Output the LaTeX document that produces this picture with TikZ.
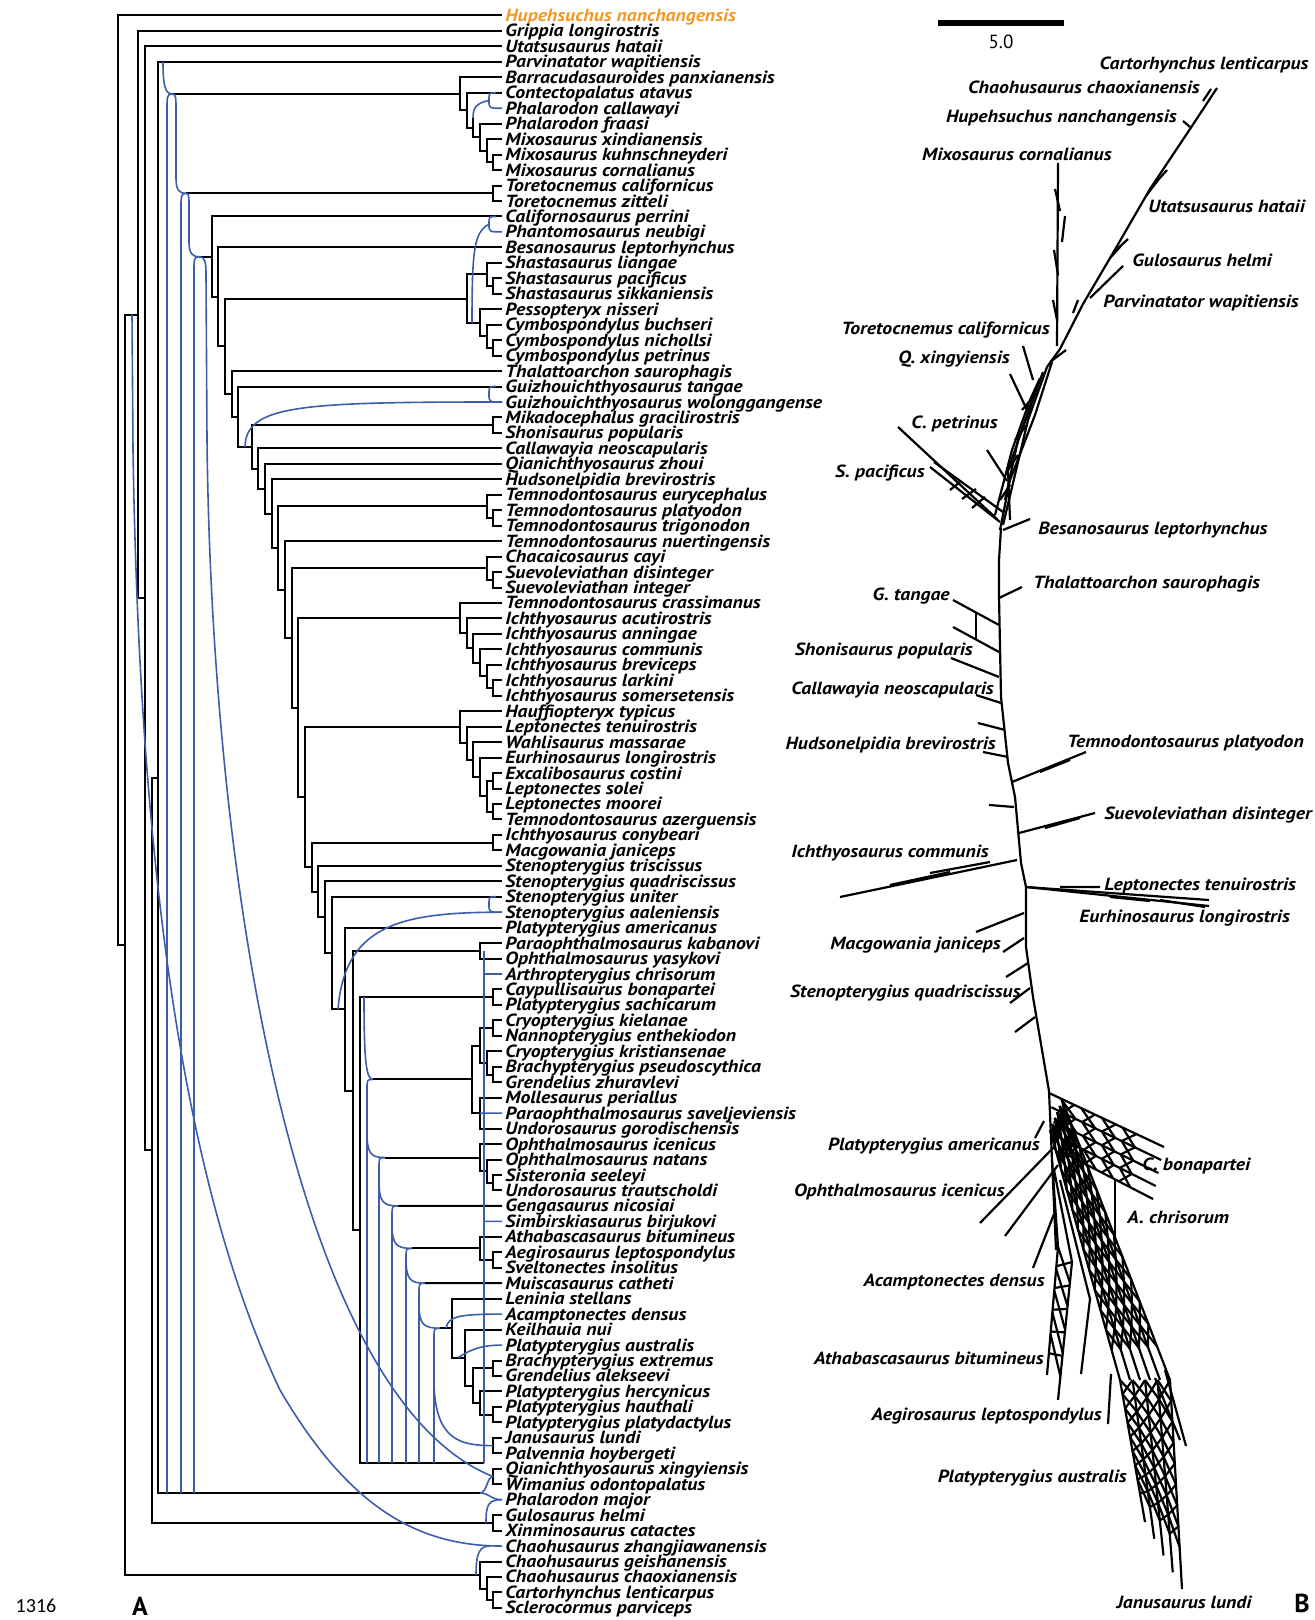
\documentclass[tikz,border=0pt]{standalone}
\usepackage{fontspec}
\setmainfont{PT Sans}
\newfontfamily\taxonfont{PT Sans}[FakeStretch=1.12]
\newfontfamily\digitfont{Carlito}
\usetikzlibrary{calc}
\definecolor{retiblue}{RGB}{60,94,170}
\definecolor{hupeorange}{RGB}{241,152,40}
\newcommand{\ry}[1]{15.5+(#1-1)*15.46}
\newcommand{\fork}[3]{\draw[treeedge] (#2) -| (#1) |- (#3);}

\begin{document}
\begin{tikzpicture}[x=0.5pt,y=-0.5pt,
  treeedge/.style={line width=1pt,black},
  retiedge/.style={line width=0.8pt,retiblue},
  netedge/.style={line width=1.1pt,black},
  taxonlab/.style={anchor=west,inner xsep=1.5pt,inner ysep=0pt,text height=1.6ex,text depth=0.4ex,font=\taxonfont\fontsize{8.8}{9}\selectfont\bfseries\itshape},
  netlab/.style={inner sep=0pt,text height=1.6ex,text depth=0.4ex,font=\taxonfont\fontsize{8.8}{9}\selectfont\bfseries\itshape}]
\useasboundingbox (0,0) rectangle (1315,1620);

% A: taxa
\node[taxonlab,text=hupeorange] (t1) at (502,{\ry{1}}) {Hupehsuchus nanchangensis};
\foreach \nm [count=\i from 2] in {Grippia longirostris,Utatsusaurus hataii,Parvinatator wapitiensis,
  Barracudasauroides panxianensis,Contectopalatus atavus,Phalarodon callawayi,Phalarodon fraasi,
  Mixosaurus xindianensis,Mixosaurus kuhnschneyderi,Mixosaurus cornalianus,Toretocnemus californicus,
  Toretocnemus zitteli,Californosaurus perrini,Phantomosaurus neubigi,Besanosaurus leptorhynchus,
  Shastasaurus liangae,Shastasaurus pacificus,Shastasaurus sikkaniensis,Pessopteryx nisseri,
  Cymbospondylus buchseri,Cymbospondylus nichollsi,Cymbospondylus petrinus,Thalattoarchon saurophagis,
  Guizhouichthyosaurus tangae,Guizhouichthyosaurus wolonggangense,Mikadocephalus gracilirostris,
  Shonisaurus popularis,Callawayia neoscapularis,Qianichthyosaurus zhoui,Hudsonelpidia brevirostris,
  Temnodontosaurus eurycephalus,Temnodontosaurus platyodon,Temnodontosaurus trigonodon,
  Temnodontosaurus nuertingensis,Chacaicosaurus cayi,Suevoleviathan disinteger,Suevoleviathan integer,
  Temnodontosaurus crassimanus,Ichthyosaurus acutirostris,Ichthyosaurus anningae,Ichthyosaurus communis,
  Ichthyosaurus breviceps,Ichthyosaurus larkini,Ichthyosaurus somersetensis,Hauffiopteryx typicus,
  Leptonectes tenuirostris,Wahlisaurus massarae,Eurhinosaurus longirostris,Excalibosaurus costini,
  Leptonectes solei,Leptonectes moorei,Temnodontosaurus azerguensis,Ichthyosaurus conybeari,
  Macgowania janiceps,Stenopterygius triscissus,Stenopterygius quadriscissus,Stenopterygius uniter,
  Stenopterygius aaleniensis,Platypterygius americanus,Paraophthalmosaurus kabanovi,Ophthalmosaurus yasykovi,
  Arthropterygius chrisorum,Caypullisaurus bonapartei,Platypterygius sachicarum,Cryopterygius kielanae,
  Nannopterygius enthekiodon,Cryopterygius kristiansenae,Brachypterygius pseudoscythica,Grendelius zhuravlevi,
  Mollesaurus periallus,Paraophthalmosaurus saveljeviensis,Undorosaurus gorodischensis,Ophthalmosaurus icenicus,
  Ophthalmosaurus natans,Sisteronia seeleyi,Undorosaurus trautscholdi,Gengasaurus nicosiai,
  Simbirskiasaurus birjukovi,Athabascasaurus bitumineus,Aegirosaurus leptospondylus,Sveltonectes insolitus,
  Muiscasaurus catheti,Leninia stellans,Acamptonectes densus,Keilhauia nui,Platypterygius australis,
  Brachypterygius extremus,Grendelius alekseevi,Platypterygius hercynicus,Platypterygius hauthali,
  Platypterygius platydactylus,Janusaurus lundi,Palvennia hoybergeti,Qianichthyosaurus xingyiensis,
  Wimanius odontopalatus,Phalarodon major,Gulosaurus helmi,Xinminosaurus catactes,
  Chaohusaurus zhangjiawanensis,Chaohusaurus geishanensis,Chaohusaurus chaoxianensis,
  Cartorhynchus lenticarpus,Sclerocormus parviceps}
  \node[taxonlab] (t\i) at (502,{\ry{\i}}) {\nm};

% tree nodes
\coordinate (m1) at (493,162.4); \coordinate (m2) at (487,150.8); \coordinate (m3) at (480,137.2);
\coordinate (m4) at (473,127.6); \coordinate (m4top) at (473,118); \coordinate (m5) at (467,110.2);
\coordinate (m6) at (460,93.8); \coordinate (mj) at (172,93.8);
\coordinate (tc) at (493,193.3); \coordinate (tj) at (186,193.3);
\coordinate (s1) at (493,286.1); \coordinate (s2) at (487,274.5); \coordinate (s3) at (493,347.9);
\coordinate (s4) at (487,336.3); \coordinate (s5) at (480,322.8); \coordinate (s6) at (467,298.6);
\coordinate (mk) at (493,425.2); \coordinate (cj) at (199,256.7);
\coordinate (e1) at (493,518.0); \coordinate (e2) at (487,506.4);
\coordinate (c1) at (493,579.8); \coordinate (c2) at (487,568.2);
\coordinate (i1) at (493,688.0); \coordinate (i2) at (487,676.4); \coordinate (i3) at (480,662.9);
\coordinate (i4) at (473,648.4); \coordinate (i5) at (467,633.4); \coordinate (i6) at (460,618.2);
\coordinate (h1) at (493,780.8); \coordinate (h2) at (493,811.7); \coordinate (h3) at (487,796.2);
\coordinate (h4) at (480,776.9); \coordinate (h5) at (473,759.5); \coordinate (h6) at (467,743.1);
\coordinate (h7) at (460,727.2); \coordinate (ic) at (493,842.6);
\coordinate (pk) at (480,950.9); \coordinate (cay) at (493,997.2); \coordinate (boxend) at (484,1463);
\coordinate (n212) at (212,256.7); \coordinate (n218) at (218,296.9); \coordinate (n225) at (225,346.3);
\coordinate (n232) at (232,393.9); \coordinate (n238) at (238,416.7); \coordinate (n252) at (252,446.9);
\coordinate (n258) at (258,468.6); \coordinate (n265) at (265,488.7); \coordinate (n272) at (272,513.6);
\coordinate (n278) at (278,548.0); \coordinate (n285) at (285,589.5); \coordinate (n292) at (292,638.0);
\coordinate (n298) at (298,707.7); \coordinate (n305) at (305,797.1); \coordinate (n312) at (312,867.0);
\coordinate (n318) at (318,891.5); \coordinate (n325) at (325,917.1); \coordinate (n332) at (332,952.9);
\coordinate (n345) at (345,1009.1); \coordinate (n353) at (353,1090.5); \coordinate (n360) at (360,1230.1);
\coordinate (k1) at (493,1028.2); \coordinate (k2) at (493,1074.5); \coordinate (k3) at (487,1062.9);
\coordinate (k4) at (480,1045.6); \coordinate (mo) at (480,1113.2); \coordinate (k5) at (472,1079.4);
\coordinate (o1) at (493,1182.7); \coordinate (o2) at (487,1171.1); \coordinate (o3) at (480,1157.6);
\coordinate (a1) at (493,1260.0); \coordinate (a2) at (480,1248.4);
\coordinate (l1) at (493,1368.3); \coordinate (l2) at (493,1414.7); \coordinate (l3) at (480,1403.1);
\coordinate (l4) at (473,1385.7); \coordinate (l5) at (465,1357.7); \coordinate (l6) at (452,1328.2);
\coordinate (J1) at (373,1079.4); \coordinate (J2) at (385,1157.6); \coordinate (J3) at (398,1205.9);
\coordinate (J4) at (412,1248.4); \coordinate (J5) at (425,1283.2); \coordinate (J6) at (440,1328.2);
\coordinate (jp) at (493,1445.6); \coordinate (qw) at (493,1476.5); \coordinate (gx) at (493,1522.9);
\coordinate (ch1) at (493,1600.2); \coordinate (ch2) at (487,1588.6); \coordinate (ch3) at (480,1575.1);
\coordinate (pmj) at (480,1493);
\coordinate (N5) at (158,777.5); \coordinate (N4) at (152,1150.2); \coordinate (N3) at (145,598.3);
\coordinate (N2) at (138,314.7); \coordinate (N1) at (125,944.9); \coordinate (N0) at (118,480.2);

% black tree edges
\fork{m1}{t10.west}{t11.west} \fork{m2}{t9.west}{m1} \fork{m3}{t8.west}{m2}
\draw[treeedge] (m4top) |- (m3);
\fork{m5}{t6.west}{m4} \fork{m6}{t5.west}{m5} \draw[treeedge] (mj) -- (m6);
\fork{tc}{t12.west}{t13.west} \draw[treeedge] (tj) -- (tc);
\fork{s1}{t18.west}{t19.west} \fork{s2}{t17.west}{s1} \fork{s3}{t22.west}{t23.west}
\fork{s4}{t21.west}{s3} \fork{s5}{t20.west}{s4} \fork{s6}{s2}{s5}
\fork{mk}{t27.west}{t28.west}
\fork{e1}{t33.west}{t34.west} \fork{e2}{t32.west}{e1}
\fork{c1}{t37.west}{t38.west} \fork{c2}{t36.west}{c1}
\fork{i1}{t44.west}{t45.west} \fork{i2}{t43.west}{i1} \fork{i3}{t42.west}{i2}
\fork{i4}{t41.west}{i3} \fork{i5}{t40.west}{i4} \fork{i6}{t39.west}{i5}
\fork{h1}{t50.west}{t51.west} \fork{h2}{t52.west}{t53.west} \fork{h3}{h1}{h2}
\fork{h4}{t49.west}{h3} \fork{h5}{t48.west}{h4} \fork{h6}{t47.west}{h5} \fork{h7}{t46.west}{h6}
\fork{ic}{t54.west}{t55.west} \fork{pk}{t61.west}{t62.west} \fork{cay}{t64.west}{t65.west}
\draw[treeedge] (cj) -- (n212);
\fork{n212}{t14.west}{n218} \fork{n218}{t16.west}{n225} \fork{n225}{s6}{n232}
\fork{n232}{t24.west}{n238} \fork{n238}{t25.west}{n252} \fork{n252}{mk}{n258}
\fork{n258}{t29.west}{n265} \fork{n265}{t30.west}{n272} \fork{n272}{t31.west}{n278}
\fork{n278}{e2}{n285} \fork{n285}{t35.west}{n292} \fork{n292}{c2}{n298}
\fork{n298}{i6}{n305} \fork{n305}{h7}{n312} \fork{n312}{ic}{n318}
\fork{n318}{t56.west}{n325} \fork{n325}{t57.west}{n332} \fork{n332}{t58.west}{n345}
\fork{n345}{t60.west}{n353} \fork{n353}{pk}{n360} \fork{n360}{cay}{boxend}
\fork{k1}{t66.west}{t67.west} \fork{k2}{t69.west}{t70.west} \fork{k3}{t68.west}{k2}
\fork{k4}{k1}{k3} \fork{mo}{t71.west}{t73.west} \fork{k5}{k4}{mo} \draw[treeedge] (J1) -- (k5);
\fork{o1}{t76.west}{t77.west} \fork{o2}{t75.west}{o1} \fork{o3}{t74.west}{o2} \draw[treeedge] (J2) -- (o3);
\draw[treeedge] (J3) -- (t78.west);
\fork{a1}{t81.west}{t82.west} \fork{a2}{t80.west}{a1} \draw[treeedge] (J4) -- (a2);
\draw[treeedge] (J5) -- (t83.west);
\fork{l1}{t88.west}{t89.west} \fork{l2}{t91.west}{t92.west} \fork{l3}{t90.west}{l2}
\fork{l4}{l1}{l3} \fork{l5}{t86.west}{l4} \fork{l6}{t84.west}{l5} \draw[treeedge] (J6) -- (l6);
\fork{jp}{t93.west}{t94.west} \fork{qw}{t95.west}{t96.west} \fork{gx}{t98.west}{t99.west}
\fork{ch1}{t103.west}{t104.west} \fork{ch2}{t102.west}{ch1} \fork{ch3}{t101.west}{ch2}
\fork{N5}{t4.west}{pmj} \fork{N4}{N5}{gx} \fork{N3}{t3.west}{N4}
\fork{N2}{t2.west}{N3} \fork{N1}{N2}{ch3} \fork{N0}{t1.west}{N1}

% blue reticulate edges
\draw[retiedge] (163,61.9) .. controls (163,85) and (165,93.8) .. (mj);
\draw[retiedge] (mj) .. controls (167,93.8) and (167,98) .. (167,108) -- (167,1493);
\draw[retiedge] (mj) .. controls (176,93.8) and (176,98) .. (176,110) -- (176,178) .. controls (176,190) and (179,193.3) .. (tj);
\draw[retiedge] (tj) .. controls (181,193.3) and (181,197) .. (181,206) -- (181,1493);
\draw[retiedge] (tj) .. controls (189,193.3) and (189,197) .. (189,206) -- (189,242) .. controls (189,253) and (192,256.7) .. (cj);
\draw[retiedge] (cj) .. controls (194,256.7) and (194,260) .. (194,270) -- (194,1493);
\draw[retiedge] (cj) .. controls (205,256.7) and (206,262) .. (206,275) -- (207,440) .. controls (212,900) and (300,1400) .. (qw);
\draw[retiedge] (132,314.7) -- (133,450) .. controls (140,900) and (190,1200) .. (280,1390) .. controls (350,1510) and (420,1546) .. (t100.west);
\draw[retiedge] (476,1575.1) .. controls (476,1552) and (480,1546) .. (490,1546);
\draw[retiedge] (496,92.8) .. controls (489,92.8) .. (489,100.5) .. controls (489,108.3) .. (t7.west);
\draw[retiedge] (489,100.5) .. controls (476,103) and (473,108) .. (m4top);
\draw[retiedge] (496,216.5) .. controls (489,216.5) .. (489,224.2) .. controls (489,231.9) .. (t15.west);
\draw[retiedge] (489,224.2) .. controls (474,232) and (472,250) .. (472,322.8);
\draw[retiedge] (496,386.5) .. controls (489,386.5) .. (489,394.2) .. controls (489,402) .. (t26.west);
\draw[retiedge] (245,446.9) .. controls (246,405) and (300,402) .. (t26.west);
\draw[retiedge] (496,896.7) .. controls (489,896.7) .. (489,904.5) .. controls (489,912.2) .. (t59.west);
\draw[retiedge] (338,1009.1) .. controls (345,925) and (400,912.2) .. (t59.west);
\draw[retiedge] (484,950.9) -- (boxend);
\draw[retiedge] (484,974.0) -- (t63.west);
\draw[retiedge] (mo) -- (t72.west);
\draw[retiedge] (484,1221.4) -- (t79.west);
\draw[retiedge] (364,997.2) .. controls (364,1060) and (366,1079.4) .. (J1);
\foreach \j in {1,...,6}
  \draw[retiedge] (J\j) .. controls ($(J\j)+(-6,0)$) .. ($(J\j)+(-6,10)$) -- ($(J\j |- boxend)+(-6,0)$);
\foreach \a/\b in {1/2,2/3,3/4,4/5,5/6}
  \draw[retiedge] ($(J\a |- J\b)+(-6,-25)$) .. controls ($(J\a |- J\b)+(-6,-4)$) and ($(J\a |- J\b)+(-2,0)$) .. (J\b);
\draw[retiedge] (446,1328.2) .. controls (448,1316) and (460,1314.1) .. (t85.west);
\draw[retiedge] (458,1357.7) .. controls (470,1350) and (480,1345.1) .. (t87.west);
\draw[retiedge] (434,1385) .. controls (436,1440) and (460,1445.6) .. (jp);
\draw[retiedge] (pmj) .. controls (487,1493) and (487,1476.5) .. (qw);
\draw[retiedge] (pmj) .. controls (490,1493) and (490,1499.7) .. (t97.west);
\draw[retiedge] (486,1522.9) .. controls (486,1505) and (488,1499.7) .. (t97.west);

% B: network
\draw[line width=2.6pt] (938,23) -- (1064,23);
\node[font=\fontsize{9.5}{10}\selectfont] (scalelab) at (1001,42) {5.0};
\draw[netedge] (1217,88) -- (1192,126) -- (1150,189) -- (1113,253) -- (1083,304) -- (1060,349) -- (1047,367);
\draw[netedge] (1203,101) -- (1211,89);
\draw[netedge] (1183,121) -- (1190,127);
\draw[netedge] (1150,189) -- (1167,170);
\draw[netedge] (1146,196) -- (1158,180);
\draw[netedge] (1113,253) -- (1128,239);
\draw[netedge] (1110,258) -- (1120,247);
\draw[netedge] (1090,298) -- (1123,266);
\draw[netedge] (1078,300) -- (1073,313);
\draw[netedge] (1058,163) -- (1057,346);
\draw[netedge] (1055,189) -- (1060,211) (1065,216) -- (1062,242) (1054,250) -- (1058,275) (1053,300) -- (1057,320);
\draw[netedge] (1023,346) -- (1033,380);
\draw[netedge] (1010,374) -- (1027,410);
\draw[netedge] (1066,350) -- (1050,362);
% bundle
\draw[netedge] (1047,367) -- (1028,420) -- (1003,525);
\draw[netedge] (1052,362) -- (1035,415) -- (1010,480) -- (1000,530);
\draw[netedge] (1043,372) -- (1022,430) -- (1008,470) -- (1010,520);
\draw[netedge] (1040,378) -- (1030,400) -- (1012,450) -- (995,515);
\draw[netedge] (1038,385) -- (1018,440) -- (1005,500);
\draw[netedge] (1035,395) -- (1022,410) (1027,425) -- (1015,440) (1018,455) -- (1008,470) (1010,485) -- (1000,500);
\draw[netedge] (898,427) -- (997,519);
\draw[netedge] (930,467) -- (1000,522);
\draw[netedge] (934,462) -- (1003,512);
\draw[netedge] (987,450) -- (1007,481);
\draw[netedge] (972,508) -- (985,497) (962,499) -- (976,489) (950,490) -- (960,482);
% trunk
\draw[netedge] (1001,528) -- (999,560) -- (999,597) -- (1001,697) -- (1008,763) -- (1015,797) -- (1021,863) -- (1026,887) -- (1026,947) -- (1033,997) -- (1042,1050) -- (1049,1091);
\draw[netedge] (1003,530) -- (1030,519);
\draw[netedge] (999,598) -- (1022,587);
\draw[netedge] (953,600) -- (999,625);
\draw[netedge] (953,627) -- (999,652);
\draw[netedge] (976,613) -- (976,639);
\draw[netedge] (951,658) -- (999,677);
\draw[netedge] (976,695) -- (1001,703);
\draw[netedge] (978,723) -- (1005,730);
\draw[netedge] (983,752) -- (1008,757);
\draw[netedge] (1012,782) -- (1086,752);
\draw[netedge] (1040,772) -- (1070,760);
\draw[netedge] (989,805) -- (1014,807);
\draw[netedge] (1019,833) -- (1095,813);
\draw[netedge] (1045,828) -- (1080,818);
\draw[netedge] (1017,860) -- (840,897);
\draw[netedge] (990,862) -- (930,873) (950,872) -- (890,885);
\draw[netedge] (1026,887) -- (1209,900);
\draw[netedge] (1026,887) -- (1209,906);
\draw[netedge] (1060,887) -- (1100,887) (1110,897) -- (1150,901) (1160,900) -- (1205,907);
\draw[netedge] (1024,913) -- (976,932);
\draw[netedge] (1024,938) -- (1003,952);
\draw[netedge] (1028,963) -- (1006,977);
\draw[netedge] (1030,988) -- (1010,1003);
\draw[netedge] (1035,1017) -- (1015,1032);
% fan
\draw[netedge] (1049,1091) -- (1052,1160) -- (1056,1250);
\draw[netedge] (1044,1121) -- (1035,1138);
\draw[netedge] (1054,1147) -- (980,1223);
\draw[netedge] (1058,1165) -- (1005,1236);
\draw[netedge] (1054,1214) -- (1033,1268);
\foreach \k in {0,...,4}
  \draw[netedge] ({1049+2.25*\k},{1093+14.25*\k}) -- ({1164-2.75*\k},{1147+13*\k});
\foreach \k in {0,...,3}
  \foreach \s in {0.1,0.28,0.46,0.64} {
    \draw[netedge] ({1049+2.25*\k+\s*(115-5*\k)},{1093+14.25*\k+\s*(54-1.25*\k)}) -- ({1049+2.25*(\k+1)+(\s+0.12)*(115-5*(\k+1))},{1093+14.25*(\k+1)+(\s+0.12)*(54-1.25*(\k+1))});
    \draw[netedge] ({1049+2.25*(\k+1)+\s*(115-5*(\k+1))},{1093+14.25*(\k+1)+\s*(54-1.25*(\k+1))}) -- ({1049+2.25*\k+(\s+0.12)*(115-5*\k)},{1093+14.25*\k+(\s+0.12)*(54-1.25*\k)});
  }
\draw[netedge] (1115,1180) -- (1115,1258);
\foreach \k in {0,...,5}
  \draw[netedge] ({1050+2.4*\k},{1130-6*\k}) -- ({1120+10*\k},1380);
\foreach \k in {0,...,4}
  \foreach \s in {0,0.08,...,0.85} {
    \draw[netedge] ({1050+2.4*\k+\s*(70+7.6*\k)},{1130-6*\k+\s*(250+6*\k)}) -- ({1050+2.4*(\k+1)+(\s+0.08)*(70+7.6*(\k+1))},{1130-6*(\k+1)+(\s+0.08)*(250+6*(\k+1))});
    \draw[netedge] ({1050+2.4*(\k+1)+\s*(70+7.6*(\k+1))},{1130-6*(\k+1)+\s*(250+6*(\k+1))}) -- ({1050+2.4*\k+(\s+0.08)*(70+7.6*\k)},{1130-6*\k+(\s+0.08)*(250+6*\k)});
  }
\foreach \k in {0,...,4}
  \draw[netedge] ({1120+12.5*\k},1380) -- ({1145+9.25*\k},{1522+16.75*\k});
\foreach \k in {0,...,3}
  \foreach \s in {0,0.1,...,0.8} {
    \draw[netedge] ({1120+12.5*\k+\s*(25-3.25*\k)},{1380+\s*(142+16.75*\k)}) -- ({1120+12.5*(\k+1)+(\s+0.1)*(25-3.25*(\k+1))},{1380+(\s+0.1)*(142+16.75*(\k+1))});
    \draw[netedge] ({1120+12.5*(\k+1)+\s*(25-3.25*(\k+1))},{1380+\s*(142+16.75*(\k+1))}) -- ({1120+12.5*\k+(\s+0.1)*(25-3.25*\k)},{1380+(\s+0.1)*(142+16.75*\k)});
  }
\draw[netedge] (1165,1370) -- (1186,1446) (1155,1378) -- (1180,1440);
\draw[netedge] (1058,1247) -- (1047,1375);
\draw[netedge] (1072,1262) -- (1058,1400);
\draw[netedge] (1090,1299) -- (1081,1374);
\draw[netedge] (1111,1374) -- (1108,1424);
\draw[netedge] (1052,1160) -- (1058,1247) (1054,1170) -- (1072,1262) (1060,1180) -- (1090,1299);
\foreach \s in {0,0.17,...,0.7} {
  \draw[netedge] ({1058-11*\s},{1247+128*\s}) -- ({1072-14*(\s+0.15)},{1262+138*(\s+0.15)});
  \draw[netedge] ({1072-14*\s},{1262+138*\s}) -- ({1058-11*(\s+0.15)},{1247+128*(\s+0.15)});
}

% B: labels
\node[netlab] (bcarto) at (1204,64) {Cartorhynchus lenticarpus};
\node[netlab,anchor=east] (bchao) at (1200,88) {Chaohusaurus chaoxianensis};
\node[netlab,anchor=east] (bhupe) at (1177,117) {Hupehsuchus nanchangensis};
\node[netlab,anchor=east] (bmixo) at (1112,155) {Mixosaurus cornalianus};
\node[netlab,anchor=west] (butat) at (1148,207) {Utatsusaurus hataii};
\node[netlab,anchor=west] (bgulo) at (1132,261) {Gulosaurus helmi};
\node[netlab,anchor=west] (bparv) at (1103,302) {Parvinatator wapitiensis};
\node[netlab,anchor=east] (btoret) at (1050,329) {Toretocnemus californicus};
\node[netlab,anchor=east] (bqx) at (1010,358) {Q. xingyiensis};
\node[netlab,anchor=east] (bcpet) at (998,423) {C. petrinus};
\node[netlab,anchor=east] (bspac) at (925,471) {S. pacificus};
\node[netlab,anchor=west] (bbesan) at (1038,528) {Besanosaurus leptorhynchus};
\node[netlab,anchor=west] (bthal) at (1033,582) {Thalattoarchon saurophagis};
\node[netlab,anchor=east] (bgtan) at (950,594) {G. tangae};
\node[netlab,anchor=east] (bshon) at (973,649) {Shonisaurus popularis};
\node[netlab,anchor=east] (bcalla) at (994,688) {Callawayia neoscapularis};
\node[netlab,anchor=east] (bhuds) at (996,743) {Hudsonelpidia brevirostris};
\node[netlab,anchor=west] (btemno) at (1067,741) {Temnodontosaurus platyodon};
\node[netlab,anchor=west] (bsuevo) at (1104,813) {Suevoleviathan disinteger};
\node[netlab,anchor=east] (bicom) at (989,851) {Ichthyosaurus communis};
\node[netlab,anchor=west] (blept) at (1104,884) {Leptonectes tenuirostris};
\node[netlab,anchor=west] (beurh) at (1079,916) {Eurhinosaurus longirostris};
\node[netlab,anchor=east] (bmacg) at (1001,943) {Macgowania janiceps};
\node[netlab,anchor=east] (bsteno) at (1021,991) {Stenopterygius quadriscissus};
\node[netlab,anchor=east] (bplam) at (1040,1144) {Platypterygius americanus};
\node[netlab,anchor=west] (bcbon) at (1142,1164) {C. bonapartei};
\node[netlab,anchor=east] (bophic) at (1005,1190) {Ophthalmosaurus icenicus};
\node[netlab,anchor=west] (bachr) at (1127,1217) {A. chrisorum};
\node[netlab,anchor=east] (bacam) at (1045,1280) {Acamptonectes densus};
\node[netlab,anchor=east] (bathab) at (1044,1358) {Athabascasaurus bitumineus};
\node[netlab,anchor=east] (baegi) at (1102,1414) {Aegirosaurus leptospondylus};
\node[netlab,anchor=east] (bplau) at (1127,1476) {Platypterygius australis};
\node[netlab] (bjanus) at (1184,1602) {Janusaurus lundi};

% panel letters
\node[inner sep=0pt,font=\digitfont\fontsize{10}{10}\selectfont] (pagenum) at (36,1606) {1316};
\node[inner sep=0pt,font=\fontsize{13}{13}\selectfont\bfseries] (panelA) at (140,1606) {A};
\node[inner sep=0pt,font=\fontsize{13}{13}\selectfont\bfseries] (panelB) at (1302,1603) {B};
\end{tikzpicture}
\end{document}
